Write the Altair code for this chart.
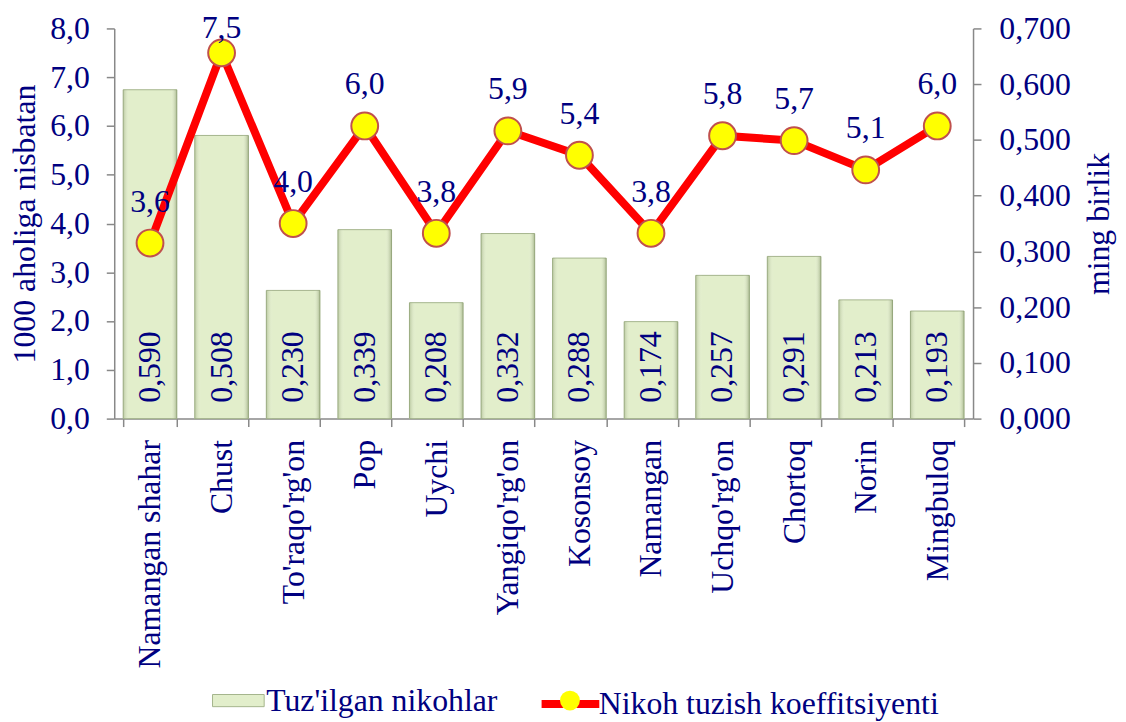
import altair as alt
import pandas as pd

regions = ["Namangan shahar", "Chust", "To'raqo'rg'on", "Pop", "Uychi", "Yangiqo'rg'on",
           "Kosonsoy", "Namangan", "Uchqo'rg'on", "Chortoq", "Norin", "Mingbuloq"]
marriages = [0.590, 0.508, 0.230, 0.339, 0.208, 0.332, 0.288, 0.174, 0.257, 0.291, 0.213, 0.193]
coef = [3.6, 7.5, 4.0, 6.0, 3.8, 5.9, 5.4, 3.8, 5.8, 5.7, 5.1, 6.0]
left_ticks = [0, 1, 2, 3, 4, 5, 6, 7, 8]
right_ticks = [0.0, 0.1, 0.2, 0.3, 0.4, 0.5, 0.6, 0.7]

bar_name = "Tuz'ilgan nikohlar"
line_name = "Nikoh tuzish koeffitsiyenti"
marker_key = "marker"
left_title = "1000 aholiga nisbatan"
right_title = "ming birlik"

df = pd.DataFrame({"region": regions, "marriages": marriages, "coef": coef})
df["bar_series"] = bar_name
df["line_series"] = line_name
df["marker_series"] = marker_key

FONT = "Liberation Serif"
NAVY = "#000080"
GRAY = "#888888"
FS = 32

x_enc = alt.X(
    "region:N", sort=regions,
    scale=alt.Scale(paddingInner=0.25, paddingOuter=0.125),
    axis=alt.Axis(title=None, labelAngle=270, labelFont=FONT, labelFontSize=FS,
                  labelColor=NAVY, tickBand="extent", tickSize=8, labelPadding=13,
                  domainColor=GRAY, tickColor=GRAY, domainWidth=1.5, tickWidth=1.5,
                  labelLimit=400),
)

right_scale = alt.Scale(domain=[0, 0.7], nice=False)
left_scale = alt.Scale(domain=[0, 8], nice=False)

right_axis = alt.Axis(orient="right", values=right_ticks,
                      labelExpr="replace(format(datum.value, '.3f'), '.', ',')",
                      title=right_title, titleAngle=270, titleBaseline="top",
                      titleFont=FONT, titleFontSize=FS,
                      titleFontWeight="normal", titleColor=NAVY, titlePadding=13,
                      labelFont=FONT, labelFontSize=FS, labelColor=NAVY, labelPadding=18,
                      tickSize=8, domainColor=GRAY, tickColor=GRAY, domainWidth=1.5,
                      tickWidth=1.5, grid=False)

left_axis = alt.Axis(orient="left", values=left_ticks,
                     labelExpr="replace(format(datum.value, '.1f'), '.', ',')",
                     title=left_title, titleFont=FONT, titleFontSize=FS,
                     titleFontWeight="normal", titleColor=NAVY, titlePadding=8,
                     labelFont=FONT, labelFontSize=FS, labelColor=NAVY, labelPadding=17,
                     tickSize=8, domainColor=GRAY, tickColor=GRAY, domainWidth=1.5,
                     tickWidth=1.5, grid=False)

base = alt.Chart(df)

bars = base.mark_bar(stroke="#A4B48C", strokeWidth=1).encode(
    x=x_enc, y=alt.Y("marriages:Q", scale=right_scale, axis=right_axis),
    fill=alt.Fill("bar_series:N",
                  scale=alt.Scale(domain=[bar_name], range=["#E2EECB"]),
                  legend=alt.Legend(orient="none", legendX=109, legendY=661, title=None,
                                    symbolType="M-1.7,-0.4H1.7V0.4H-1.7Z", symbolSize=936,
                                    symbolStrokeColor="#A4B48C", symbolStrokeWidth=1,
                                    labelFont=FONT, labelFontSize=FS, labelColor=NAVY,
                                    labelOffset=12, labelLimit=600, padding=0)),
)

shade = alt.Gradient(
    gradient="linear", x1=0, x2=1, y1=0, y2=0,
    stops=[alt.GradientStop(color="rgba(110,130,80,0.35)", offset=0),
           alt.GradientStop(color="rgba(255,255,255,0)", offset=0.12),
           alt.GradientStop(color="rgba(255,255,255,0)", offset=0.88),
           alt.GradientStop(color="rgba(100,120,70,0.45)", offset=1)],
)
bars_shade = base.mark_bar(color=shade).encode(
    x=x_enc, y=alt.Y("marriages:Q", scale=right_scale, axis=right_axis))

bar_text = base.transform_calculate(
    lbl="replace(format(datum.marriages, '.3f'), '.', ',')", zero="0"
).mark_text(angle=270, align="left", baseline="middle", dx=16, font=FONT,
            fontSize=FS, color=NAVY).encode(
    x=x_enc, y=alt.Y("zero:Q", scale=right_scale, axis=right_axis), text="lbl:N")

bar_group = alt.layer(bars, bars_shade, bar_text)

line = base.mark_line(strokeWidth=8).encode(
    x=x_enc, y=alt.Y("coef:Q", scale=left_scale, axis=left_axis),
    stroke=alt.Stroke("line_series:N",
                      scale=alt.Scale(domain=[line_name], range=["#FF0000"]),
                      legend=alt.Legend(orient="none", legendX=440, legendY=661, title=None,
                                        symbolType="M-1.9,0H1.9", symbolSize=936,
                                        symbolStrokeWidth=8, labelFont=FONT,
                                        labelFontSize=FS, labelColor=NAVY,
                                        labelOffset=9, labelLimit=600, padding=0)),
)

points = base.mark_point(filled=True, fill="#FFFF00", stroke="#C0504D", strokeWidth=2,
                         size=729, opacity=1).encode(
    x=x_enc, y=alt.Y("coef:Q", scale=left_scale, axis=left_axis),
    shape=alt.Shape("marker_series:N",
                    scale=alt.Scale(domain=[marker_key], range=["circle"]),
                    legend=alt.Legend(orient="none", legendX=448, legendY=666, title=None,
                                      symbolSize=400, symbolFillColor="#FFFF00",
                                      symbolStrokeColor="#C0504D", symbolStrokeWidth=2,
                                      labelExpr="''", labelFontSize=1, padding=0)),
)

line_text = base.transform_calculate(
    lbl="replace(format(datum.coef, '.1f'), '.', ',')",
    ly="min(datum.coef + 0.85, 8.0)",
).mark_text(baseline="middle", font=FONT, fontSize=FS, color=NAVY).encode(
    x=x_enc, y=alt.Y("ly:Q", scale=left_scale, axis=left_axis), text="lbl:N")

line_group = alt.layer(line, points, line_text)

chart = alt.layer(bar_group, line_group).resolve_scale(y="independent").properties(
    width=865, height=393, padding={"left": 1, "top": 2, "right": 4, "bottom": 0}
).configure_view(stroke=None)

chart.save("out.html", embed_options={"renderer": "svg", "actions": False})
